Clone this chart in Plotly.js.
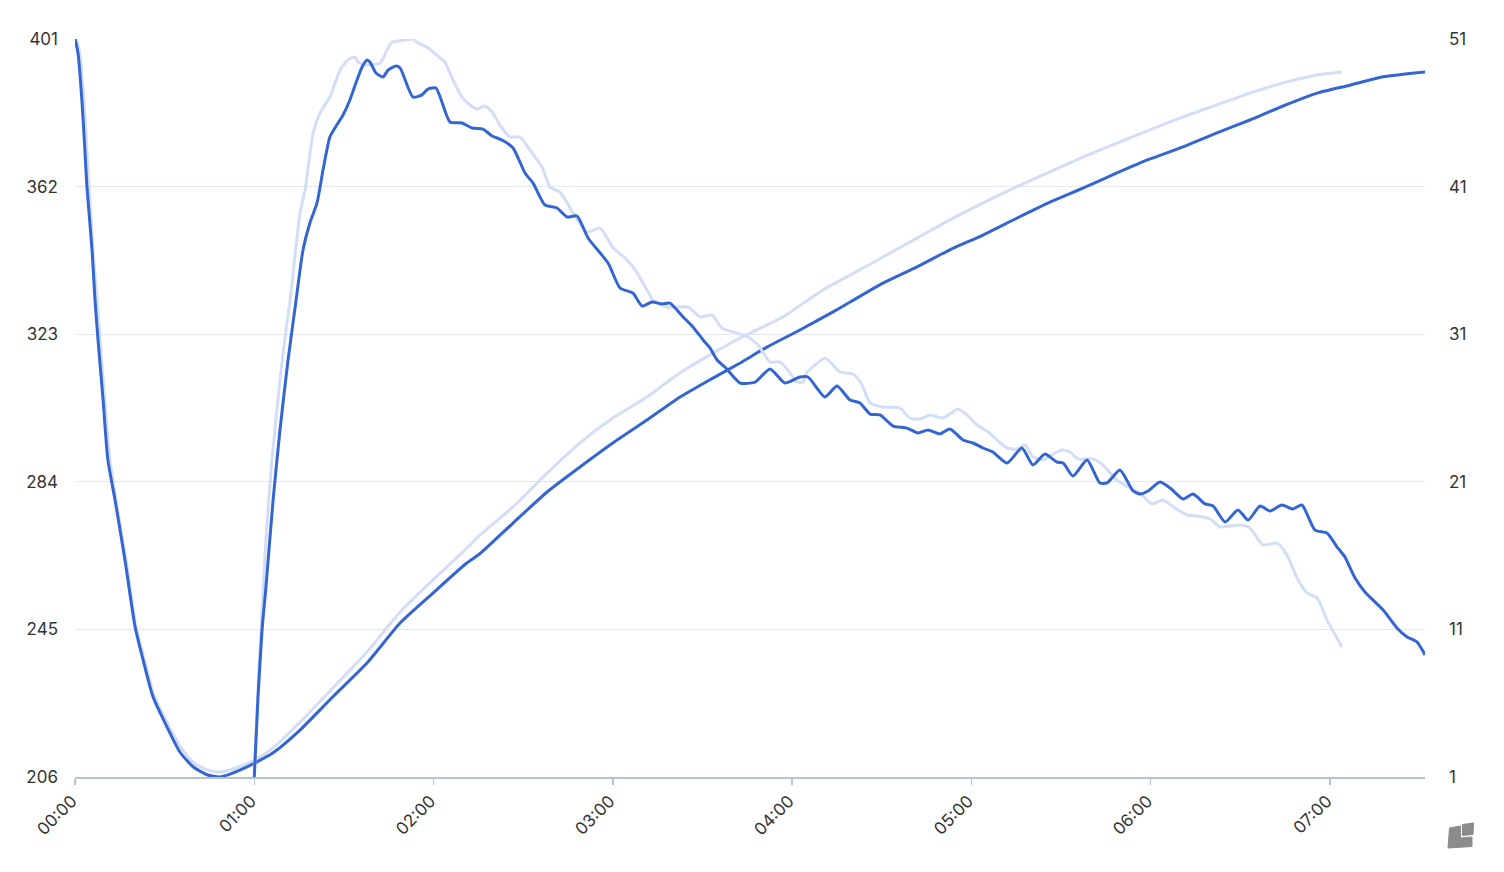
<!DOCTYPE html>
<html>
<head>
<meta charset="utf-8">
<script src="https://cdn.plot.ly/plotly-3.0.1.min.js"></script>
<style>
  html, body { margin: 0; padding: 0; background: #fff; }
  #chart { width: 1504px; height: 872px; }
</style>
</head>
<body>
<div id="chart"></div>
<script>
// ---- data (minutes since 00:00) ----
const xTickVals = [0, 60, 120, 180, 240, 300, 360, 420];
const xTickText = ["00:00", "01:00", "02:00", "03:00", "04:00", "05:00", "06:00", "07:00"];
const leftTicks = [206, 245, 284, 323, 362, 401];
const rightTicks = [1, 11, 21, 31, 41, 51];

// Series A (left axis) – current
const aTime = [0, 1.0, 2.3, 3.3, 4.0, 5.7, 6.7, 7.7, 9.4, 11.0, 13.4, 16.7, 20.1, 22.8, 26.1, 30.8, 35.1, 39.5, 44.2, 48.5, 52.9, 57.6, 60.2, 66.3, 75.3, 86.3, 97.7, 108.8, 119.8, 131.2, 135.5, 146.6, 158.0, 169.0, 180.1, 191.4, 202.5, 213.5, 222.6, 231.6, 242.6, 253.7, 259.4, 270.4, 281.8, 292.8, 303.9, 315.3, 326.3, 337.3, 348.7, 359.8, 370.8, 382.2, 393.2, 404.3, 415.7, 426.7, 437.8, 451.8];
const aValue = [401, 397.3, 384.9, 371.7, 361.9, 345.3, 332.0, 321.5, 305.6, 289.8, 279.2, 263.4, 245.7, 236.9, 227.2, 219.2, 212.6, 208.7, 206.6, 206.0, 207.1, 208.7, 209.7, 212.4, 218.4, 227.2, 236.1, 246.7, 254.6, 262.6, 265.0, 273.1, 281.3, 287.9, 294.3, 300.3, 306.4, 311.4, 315.4, 319.6, 324.1, 328.9, 331.5, 336.5, 340.8, 345.3, 349.2, 353.7, 357.9, 361.6, 365.6, 369.3, 372.5, 376.2, 379.6, 383.3, 386.7, 388.8, 391.0, 392.3];

// Series A (left axis) – comparison
const aCmpTime = [0.5, 1.7, 3.0, 4.0, 5.0, 6.0, 7.4, 8.4, 10.0, 11.7, 13.7, 17.1, 20.4, 23.1, 26.4, 31.1, 35.5, 39.8, 44.2, 48.5, 52.9, 57.6, 60.2, 66.3, 75.3, 86.3, 97.7, 108.8, 119.8, 131.2, 135.5, 146.6, 158.0, 169.0, 180.1, 191.4, 202.5, 213.5, 222.6, 237.0, 250.3, 259.4, 270.4, 281.8, 292.8, 303.9, 315.3, 326.3, 337.3, 348.7, 359.8, 370.8, 382.2, 393.2, 404.3, 415.7, 424.0];
const aCmpValue = [401, 396.8, 384.9, 371.7, 358.5, 345.3, 332.0, 321.5, 305.6, 289.8, 279.2, 263.4, 245.7, 237.5, 227.7, 220.0, 213.7, 209.7, 207.9, 207.3, 208.1, 209.5, 210.5, 213.7, 220.5, 229.5, 239.0, 249.6, 258.1, 266.5, 269.9, 277.4, 286.3, 294.3, 300.9, 306.4, 312.8, 318.0, 322.0, 327.6, 334.7, 338.6, 343.4, 348.4, 353.2, 357.7, 362.0, 365.9, 369.8, 373.5, 377.0, 380.4, 383.6, 386.7, 389.4, 391.5, 392.3];

// Series B (right axis) – current
const bTime = [60, 61.2, 62.6, 63.9, 66.3, 68.6, 71.3, 74.0, 76.3, 78.6, 81.0, 83.0, 85.3, 87.0, 89.7, 92.0, 94.0, 96.1, 97.7, 98.7, 100.7, 103.1, 104.8, 107.4, 108.8, 113.1, 116.1, 118.1, 120.8, 125.5, 129.5, 132.9, 136.5, 139.6, 142.9, 146.6, 150.6, 153.3, 157.3, 161.3, 164.7, 168.0, 171.7, 178.4, 182.4, 186.7, 189.8, 193.1, 196.4, 199.1, 203.5, 206.8, 210.2, 212.5, 214.9, 217.5, 222.6, 227.6, 232.6, 237.6, 242.6, 245.3, 251.0, 255.0, 259.4, 262.7, 266.1, 269.4, 273.8, 278.4, 282.1, 285.5, 289.5, 292.8, 297.2, 300.5, 303.9, 307.2, 311.9, 316.9, 320.6, 324.6, 328.6, 330.7, 334.0, 338.7, 343.0, 345.4, 349.7, 354.1, 356.4, 359.1, 363.1, 366.5, 370.8, 374.2, 378.2, 380.9, 384.9, 389.2, 392.6, 396.6, 399.9, 403.9, 407.6, 410.6, 415.0, 419.0, 422.4, 425.0, 428.4, 431.7, 437.8, 442.4, 445.8, 449.1, 451.8];
const bValue = [1.0, 6.22, 10.96, 13.87, 19.77, 24.51, 29.25, 33.32, 36.70, 38.53, 39.89, 42.12, 44.36, 44.97, 45.85, 46.87, 48.02, 49.10, 49.58, 49.44, 48.70, 48.43, 48.90, 49.17, 49.04, 47.07, 47.21, 47.61, 47.68, 45.38, 45.31, 44.97, 44.90, 44.43, 44.16, 43.62, 41.92, 41.24, 39.75, 39.55, 38.94, 39.01, 37.52, 35.82, 34.13, 33.79, 32.91, 33.18, 33.05, 33.11, 32.17, 31.49, 30.61, 30.07, 29.25, 28.78, 27.69, 27.76, 28.64, 27.69, 28.10, 28.10, 26.75, 27.49, 26.54, 26.34, 25.59, 25.53, 24.78, 24.64, 24.31, 24.51, 24.24, 24.58, 23.83, 23.63, 23.29, 23.02, 22.27, 23.29, 22.14, 22.88, 22.34, 22.27, 21.39, 22.48, 20.92, 20.92, 21.80, 20.38, 20.17, 20.38, 20.99, 20.58, 19.84, 20.17, 19.50, 19.36, 18.28, 19.09, 18.41, 19.36, 19.02, 19.43, 19.16, 19.43, 17.73, 17.53, 16.58, 15.91, 14.48, 13.53, 12.31, 11.10, 10.49, 10.15, 9.27];

// Series B (right axis) – comparison
const bCmpTime = [60, 61.2, 62.6, 63.9, 65.9, 68.6, 70.6, 72.0, 75.3, 77.0, 79.7, 82.0, 85.3, 88.7, 91.4, 93.7, 94.7, 97.7, 102.1, 104.4, 106.1, 108.1, 110.4, 113.1, 114.8, 117.8, 119.8, 122.2, 123.8, 126.5, 129.5, 132.2, 134.5, 137.2, 139.6, 142.2, 145.6, 148.9, 152.3, 156.3, 159.0, 162.3, 166.7, 171.4, 175.7, 180.1, 184.7, 188.1, 191.4, 193.4, 198.1, 201.8, 205.2, 209.2, 213.2, 216.5, 221.6, 225.2, 228.6, 232.6, 235.9, 238.6, 241.6, 243.6, 245.0, 247.7, 251.0, 253.7, 256.0, 260.4, 263.4, 266.1, 270.1, 276.1, 279.4, 282.8, 286.1, 290.5, 295.5, 298.5, 301.9, 305.6, 308.6, 311.9, 315.3, 317.9, 320.6, 324.0, 326.3, 330.3, 333.0, 335.7, 340.7, 344.0, 348.7, 353.1, 356.4, 360.4, 364.1, 368.1, 372.2, 375.5, 379.9, 383.2, 386.5, 389.9, 393.2, 397.6, 402.3, 405.6, 409.0, 412.3, 415.7, 419.0, 424.0];
const bCmpValue = [1.0, 6.89, 12.31, 17.06, 22.48, 27.90, 31.28, 33.32, 39.21, 40.77, 44.63, 45.99, 47.07, 48.90, 49.58, 49.78, 49.44, 49.24, 49.37, 50.25, 50.80, 50.86, 50.93, 51.0, 50.73, 50.46, 50.12, 49.71, 49.44, 48.22, 47.07, 46.53, 46.26, 46.46, 46.05, 45.17, 44.36, 44.36, 43.48, 42.33, 40.97, 40.63, 39.21, 37.92, 38.19, 36.84, 36.03, 35.15, 34.00, 33.32, 32.84, 32.84, 32.84, 32.17, 32.30, 31.42, 31.08, 30.81, 30.27, 29.12, 29.12, 28.57, 27.76, 27.76, 28.44, 28.91, 29.39, 28.91, 28.44, 28.30, 27.56, 26.34, 26.07, 26.00, 25.32, 25.25, 25.53, 25.32, 25.93, 25.53, 24.85, 24.37, 23.83, 23.29, 23.22, 23.49, 22.68, 22.48, 22.75, 23.15, 23.02, 22.55, 22.55, 22.14, 21.12, 20.58, 20.24, 19.50, 19.77, 19.23, 18.75, 18.68, 18.48, 17.94, 18.01, 18.07, 17.87, 16.72, 16.85, 16.04, 14.48, 13.47, 13.13, 11.64, 9.81];

// ---- styles ----
const DARK = '#3466d2';
const LIGHT = '#d3def6';
const FONT = 'Inter, "Noto Sans", sans-serif';
const LW = 3;
const FS = 17;

const traces = [
  { x: aCmpTime, y: aCmpValue, yaxis: 'y', mode: 'lines', line: { color: LIGHT, width: LW, shape: 'spline', smoothing: 0.6 }, hoverinfo: 'skip' },
  { x: bCmpTime, y: bCmpValue, yaxis: 'y2', mode: 'lines', line: { color: LIGHT, width: LW, shape: 'spline', smoothing: 0.6 }, hoverinfo: 'skip' },
  { x: aTime, y: aValue, yaxis: 'y', mode: 'lines', line: { color: DARK, width: LW, shape: 'spline', smoothing: 0.6 } },
  { x: bTime, y: bValue, yaxis: 'y2', mode: 'lines', line: { color: DARK, width: LW, shape: 'spline', smoothing: 0.6 } }
];

// logo (decoration) in paper coords
function px2paper(px, py) { return [((px - 75) / 1350).toFixed(5), ((777 - py) / 738).toFixed(5)]; }
function pathFrom(pts) { return pts.map((p, i) => (i ? 'L' : 'M') + px2paper(p[0], p[1]).join(',')).join(' ') + ' Z'; }
const logoL = [[1448, 848], [1449.5, 828], [1460.5, 826], [1460.5, 838], [1472, 837], [1472, 846.5]];
const logoSq = [[1462.5, 824.5], [1473.5, 823], [1473, 834.5], [1462.5, 835.5]];

const layout = {
  width: 1504, height: 872,
  margin: { l: 75, r: 79, t: 39, b: 95 },
  paper_bgcolor: '#fff', plot_bgcolor: '#fff',
  showlegend: false,
  font: { family: FONT, size: FS, color: '#333' },
  xaxis: {
    range: [0, 451.8],
    tickvals: xTickVals, ticktext: xTickText,
    tickangle: -45,
    ticklabelshift: -3,
    showgrid: false, zeroline: false,
    showline: true, linecolor: '#b6c3cc', linewidth: 1.5,
    ticks: 'outside', ticklen: 6, tickcolor: '#b6c3cc', tickwidth: 1.5,
    tickfont: { family: FONT, size: FS, color: '#333' }
  },
  yaxis: {
    range: [206, 401], tickvals: leftTicks,
    showgrid: true, gridcolor: '#e3e8ee', gridwidth: 1,
    zeroline: false, showline: false, ticks: '',
    ticklabelstandoff: 16,
    tickfont: { family: FONT, size: FS, color: '#333' }
  },
  yaxis2: {
    range: [1, 51], tickvals: rightTicks,
    overlaying: 'y', side: 'right',
    showgrid: false, zeroline: false, showline: false, ticks: '',
    ticklabelstandoff: 23,
    tickfont: { family: FONT, size: FS, color: '#333' }
  },
  shapes: [
    { type: 'path', xref: 'paper', yref: 'paper', path: pathFrom(logoL), fillcolor: '#8c8c8c', line: { width: 1, color: '#8c8c8c' } },
    { type: 'path', xref: 'paper', yref: 'paper', path: pathFrom(logoSq), fillcolor: '#8c8c8c', line: { width: 1, color: '#8c8c8c' } }
  ]
};

Plotly.newPlot('chart', traces, layout, { displayModeBar: false, staticPlot: true });
</script>
</body>
</html>
